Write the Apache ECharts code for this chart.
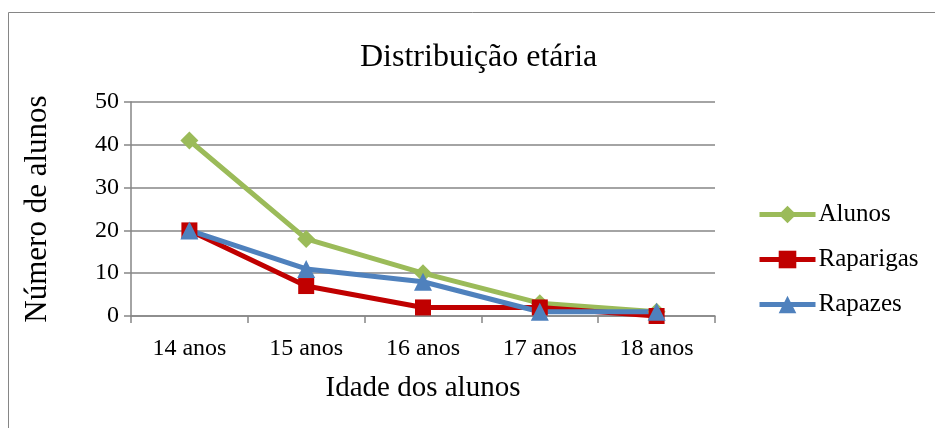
<!DOCTYPE html>
<html><head><meta charset="utf-8">
<script src="https://cdn.jsdelivr.net/npm/echarts@6/dist/echarts.min.js"></script>
<style>html,body{margin:0;padding:0;background:#fff}#c{width:935px;height:428px}</style>
</head><body><div id="c"></div>
<script>
const categories = ['14 anos','15 anos','16 anos','17 anos','18 anos'];
const alunos = [41, 18, 10, 3, 1];
const raparigas = [20, 7, 2, 2, 0];
const rapazes = [20, 11, 8, 1, 1];
const yTicks = {min: 0, max: 50, interval: 10};

const font = '"Liberation Serif","Times New Roman",serif';
const chart = echarts.init(document.getElementById('c'));
chart.setOption({
  animation: false,
  backgroundColor: '#fff',
  graphic: [{type:'rect', shape:{x:8.5,y:12.5,width:940,height:430}, style:{fill:'none',stroke:'#868686',lineWidth:1}, silent:true}],
  title: {text:'Distribuição etária', left: 355, top: 37,
    textStyle:{fontFamily:font, fontWeight:'normal', fontSize:32, color:'#000'}},
  grid: {left:131, right:220, top:102, bottom:112},
  legend: {orient:'vertical', left:752, top:197, itemGap:20, itemWidth:56, itemHeight:22,
    lineStyle:{width:5},
    textStyle:{fontFamily:font, fontSize:25, color:'#000', padding:[0,0,0,-2]},
    data:['Alunos','Raparigas','Rapazes']},
  xAxis: {type:'category', data:categories, boundaryGap:true,
    name:'Idade dos alunos', nameLocation:'middle', nameGap:58,
    nameTextStyle:{fontFamily:font, fontSize:29, color:'#000'},
    axisLine:{lineStyle:{color:'#868686', width:1.5}},
    axisTick:{show:true, alignWithLabel:false, length:7, lineStyle:{color:'#868686', width:1.5}},
    axisLabel:{fontFamily:font, fontSize:24, color:'#000', margin:21}},
  yAxis: {type:'value', min:yTicks.min, max:yTicks.max, interval:yTicks.interval,
    name:'Número de alunos', nameLocation:'middle', nameGap:78,
    nameTextStyle:{fontFamily:font, fontSize:31, color:'#000'},
    axisLine:{show:true, lineStyle:{color:'#868686', width:1.5}},
    axisTick:{show:true, length:7, lineStyle:{color:'#868686', width:1.5}},
    axisLabel:{fontFamily:font, fontSize:24, color:'#000', margin:12},
    splitLine:{lineStyle:{color:'#868686', width:1.5}}},
  series: [
    {name:'Alunos', type:'line', data:alunos, symbol:'diamond', symbolSize:18,
      lineStyle:{color:'#9BBB59', width:5}, itemStyle:{color:'#9BBB59'}},
    {name:'Raparigas', type:'line', data:raparigas, symbol:'rect', symbolSize:16,
      lineStyle:{color:'#C00000', width:5}, itemStyle:{color:'#C00000'}},
    {name:'Rapazes', type:'line', data:rapazes, symbol:'triangle', symbolSize:18,
      lineStyle:{color:'#4F81BD', width:5}, itemStyle:{color:'#4F81BD'}}
  ]
});
</script></body></html>
